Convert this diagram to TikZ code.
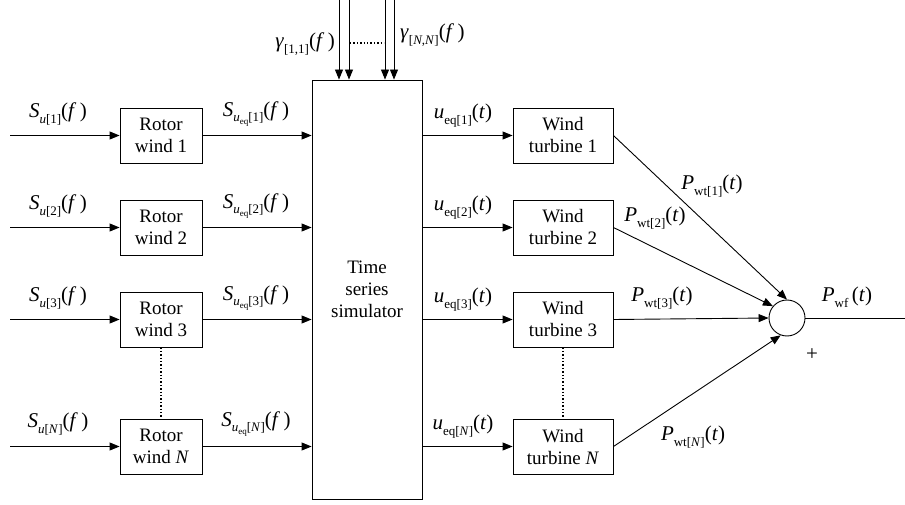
\documentclass[tikz,border=0pt]{standalone}
\usepackage{fontspec}
\setmainfont{Liberation Serif}
\usetikzlibrary{arrows.meta}
\newcommand{\iv}[1]{\textit{#1}}
\newcommand{\sbs}[1]{\raisebox{-0.28em}{\fontsize{13}{13}\selectfont #1}}
\newcommand{\sbss}[1]{\raisebox{-0.22em}{\fontsize{9}{9}\selectfont #1}}
\begin{document}
\begin{tikzpicture}[x=1pt,y=-1pt,
  every node/.style={font=\fontsize{19}{22}\selectfont},
  blk/.style={draw,line width=0.9pt,align=center,inner sep=0pt},
  rw/.style={blk,minimum width=82pt,minimum height=55pt},
  wt/.style={blk,minimum width=100pt,minimum height=55pt},
  conn/.style={line width=0.9pt},
  arr/.style={conn,-{Triangle[length=10pt,width=8pt]}},
  dots/.style={line width=1.4pt,dotted},
  lbl/.style={inner sep=0pt,font=\fontsize{21}{23}\selectfont}]
\useasboundingbox (0,0) rectangle (905,505);
% simulator
\node[blk,minimum width=110pt,minimum height=419pt] (sim) at (367,289.5) {Time\\series\\simulator};
% rotor wind boxes
\node[rw] (r1) at (161,135.5) {Rotor\\wind 1};
\node[rw] (r2) at (161,227.5) {Rotor\\wind 2};
\node[rw] (r3) at (161,319.5) {Rotor\\wind 3};
\node[rw] (rN) at (161,446.5) {Rotor\\wind \iv{N}};
% wind turbine boxes
\node[wt] (w1) at (563,135.5) {Wind\\turbine 1};
\node[wt] (w2) at (563,227.5) {Wind\\turbine 2};
\node[wt] (w3) at (563,319.5) {Wind\\turbine 3};
\node[wt] (wN) at (563,446.5) {Wind\\turbine \iv{N}};
% sum
\node[draw,circle,line width=0.9pt,minimum size=36pt,inner sep=0pt] (sum) at (787,318) {};
% free ends
\coordinate (i1) at (10,135.5);
\coordinate (i2) at (10,227.5);
\coordinate (i3) at (10,319.5);
\coordinate (iN) at (10,446.5);
\coordinate (out) at (905,318);
\coordinate (g1) at (339,0);
\coordinate (g2) at (349,0);
\coordinate (g3) at (385,0);
\coordinate (g4) at (394,0);
% inputs
\foreach \k in {1,2,3,N} {
  \draw[arr] (i\k) -- (r\k.west);
  \draw[arr] (r\k.east) -- (r\k.east -| sim.west);
  \draw[arr] (w\k.west -| sim.east) -- (w\k.west);
}
% gamma arrows
\foreach \k in {1,2,3,4} { \draw[arr] (g\k) -- (g\k |- sim.north); }
\draw[dots] (350,43) -- (384,43);
% dotted verticals
\draw[dots] (r3.south) -- (rN.north);
\draw[dots] (w3.south) -- (wN.north);
% to sum
\draw[arr] (w1.east) -- (sum.north);
\draw[arr] (w2.east) -- (sum.140);
\draw[arr] (w3.east) -- (sum.west);
\draw[arr] (wN.east) -- (sum.250);
\draw[conn] (sum.east) -- (out);
% labels
\node[lbl] at (58,114) {\iv{S}\sbs{\iv{u}[1]}(\iv{f}\,)};
\node[lbl] at (58,206) {\iv{S}\sbs{\iv{u}[2]}(\iv{f}\,)};
\node[lbl] at (58,298) {\iv{S}\sbs{\iv{u}[3]}(\iv{f}\,)};
\node[lbl] at (58,424) {\iv{S}\sbs{\iv{u}[\iv{N}]}(\iv{f}\,)};
\node[lbl] at (256,114) {\iv{S}\sbs{\iv{u}\sbss{eq}[1]}(\iv{f}\,)};
\node[lbl] at (256,206) {\iv{S}\sbs{\iv{u}\sbss{eq}[2]}(\iv{f}\,)};
\node[lbl] at (256,298) {\iv{S}\sbs{\iv{u}\sbss{eq}[3]}(\iv{f}\,)};
\node[lbl] at (256,424) {\iv{S}\sbs{\iv{u}\sbss{eq}[\iv{N}]}(\iv{f}\,)};
\node[lbl] at (463,116) {\iv{u}\sbs{eq[1]}(\iv{t})};
\node[lbl] at (463,208) {\iv{u}\sbs{eq[2]}(\iv{t})};
\node[lbl] at (463,300) {\iv{u}\sbs{eq[3]}(\iv{t})};
\node[lbl] at (463,427) {\iv{u}\sbs{eq[\iv{N}]}(\iv{t})};
\node[lbl,anchor=east] at (335,44) {\iv{γ}\sbs{[1,1]}(\iv{f}\,)};
\node[lbl,anchor=west] at (400,35) {\iv{γ}\sbs{[\iv{N},\iv{N}]}(\iv{f}\,)};
\node[lbl] at (712,186) {\iv{P}\sbs{wt[1]}(\iv{t})};
\node[lbl] at (655,218) {\iv{P}\sbs{wt[2]}(\iv{t})};
\node[lbl] at (662,298) {\iv{P}\sbs{wt[3]}(\iv{t})};
\node[lbl] at (693,437) {\iv{P}\sbs{wt[\iv{N}]}(\iv{t})};
\node[lbl] at (847,297) {\iv{P}\sbs{wf}\,(\iv{t})};
\node[lbl] at (812,355) {+};
\end{tikzpicture}
\end{document}
